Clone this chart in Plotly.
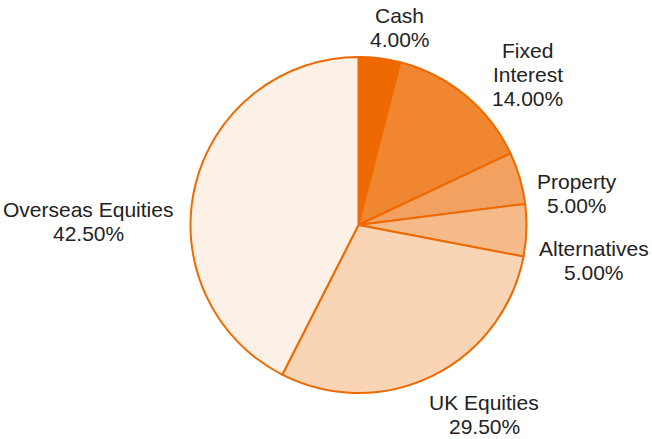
import math
import plotly.graph_objects as go

labels = ["Cash", "Fixed<br>Interest", "Property", "Alternatives", "UK Equities", "Overseas Equities"]
values = [4.0, 14.0, 5.0, 5.0, 29.5, 42.5]
colors = ["#EE6A00", "#F0862F", "#F2A160", "#F5BA8A", "#F9D5B6", "#FDF0E6"]

# label placement nudges (px) from the rim point at each slice's mid-angle
label_nudges = [(20, -24), (62, -14), (57, 23), (68, 38), (52, 46), (-107, 43)]

W, H = 652, 439
cx, cy, r = 358.5, 225, 168
LINE = 24
FONT = dict(family="Liberation Sans, Arial, sans-serif", size=21, color="#222222")

fig = go.Figure(go.Pie(
    labels=labels,
    values=values,
    sort=False,
    direction="clockwise",
    rotation=0,
    marker=dict(colors=colors, line=dict(color="#EE6A00", width=2)),
    textinfo="none",
    domain=dict(x=[(cx - r) / W, (cx + r) / W], y=[(H - cy - r) / H, (H - cy + r) / H]),
    showlegend=False,
    hoverinfo="skip",
))

total = sum(values)
cum = 0.0
for lab, val, (dx, dy) in zip(labels, values, label_nudges):
    mid = (cum + val / 2) / total * 2 * math.pi
    cum += val
    bx = cx + r * math.sin(mid) + dx
    by = cy - r * math.cos(mid) + dy
    lines = lab.split("<br>") + [f"{val / total * 100:.2f}%"]
    n = len(lines)
    for i, line in enumerate(lines):
        baseline = by + (i - (n - 1) / 2) * LINE
        ymid = baseline - 7.3
        fig.add_annotation(
            x=bx / W, y=1 - ymid / H, xref="paper", yref="paper",
            text=line, showarrow=False, xanchor="center", yanchor="middle",
            font=FONT,
        )

fig.update_layout(
    width=W, height=H,
    margin=dict(l=0, r=0, t=0, b=0),
    paper_bgcolor="white",
    plot_bgcolor="white",
)

fig.write_html("out.html", config={"displayModeBar": False},
               post_script="document.body.style.margin='0';")
